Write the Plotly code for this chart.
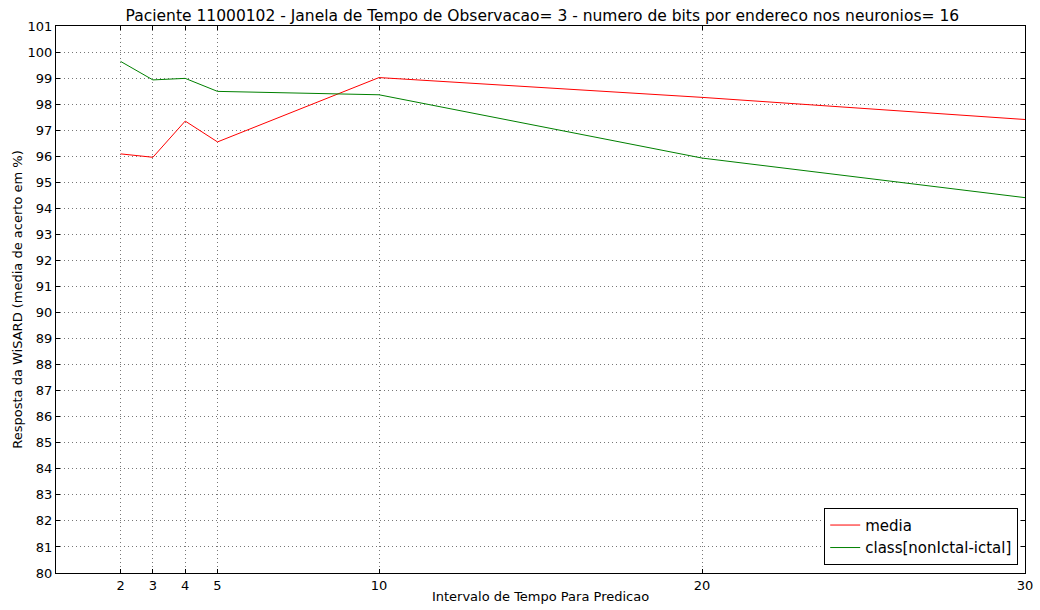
import plotly.graph_objects as go

# Prediction intervals and mean WiSARD accuracy (%)
intervalos = [2, 3, 4, 5, 10, 20, 30]
media = [96.09, 95.96, 97.35, 96.55, 99.02, 98.26, 97.41]
class_nonictal_ictal = [99.64, 98.93, 98.99, 98.49, 98.36, 95.93, 94.41]

x_ticks = [2, 3, 4, 5, 10, 20, 30]
y_ticks = list(range(80, 102))

font = "DejaVu Sans"

fig = go.Figure()
fig.add_trace(go.Scatter(x=intervalos, y=media, mode="lines", name="media",
                         line=dict(color="#ff0000", width=1)))
fig.add_trace(go.Scatter(x=intervalos, y=class_nonictal_ictal, mode="lines",
                         name="class[nonIctal-ictal]",
                         line=dict(color="#008000", width=1)))

axis_common = dict(
    showline=True, linecolor="black", linewidth=1, mirror="allticks",
    ticks="inside", ticklen=4, tickcolor="black",
    showgrid=True, gridcolor="#777777", griddash="1px,3px", gridwidth=1,
    zeroline=False, automargin=False,
    tickfont=dict(family=font, size=13, color="black"),
)

fig.update_layout(
    width=1040, height=610,
    margin=dict(l=56, r=15, t=26, b=37),
    paper_bgcolor="white", plot_bgcolor="white",
    title=dict(text="Paciente 11000102 - Janela de Tempo de Observacao= 3 - numero de bits por endereco nos neuronios= 16",
               x=0.5215, xanchor="center", y=0.974, yanchor="middle",
               font=dict(family=font, size=15.5, color="black")),
    xaxis=dict(range=[0, 30], tickvals=x_ticks,
               title=dict(text="Intervalo de Tempo Para Predicao", standoff=0,
                          font=dict(family=font, size=13, color="black")),
               **axis_common),
    yaxis=dict(range=[80, 101], tickvals=y_ticks,
               title=dict(text="Resposta da WiSARD (media de acerto em %)", standoff=2,
                          font=dict(family=font, size=13, color="black")),
               **axis_common),
    legend=dict(x=0.993, xanchor="right", y=0.015, yanchor="bottom",
                bgcolor="white", bordercolor="black", borderwidth=1,
                font=dict(family=font, size=15, color="black"),
                itemwidth=30, tracegroupgap=0),
    showlegend=True,
)

fig.write_html("out.html")
